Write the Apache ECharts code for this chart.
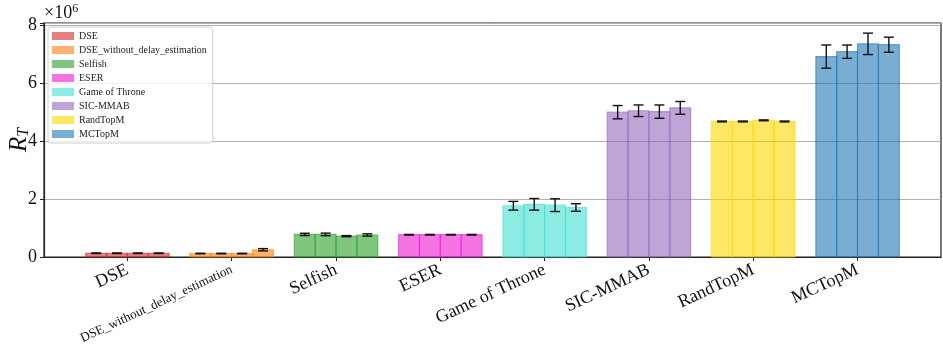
<!DOCTYPE html>
<html>
<head>
<meta charset="utf-8">
<script src="https://cdn.jsdelivr.net/npm/echarts@6/dist/echarts.min.js"></script>
<style>
  html, body { margin: 0; padding: 0; background: #fff; }
  #chart { width: 943px; height: 345px; }
</style>
</head>
<body>
<div id="chart"></div>
<script>
// methods (x categories + legend)
var categories = ['DSE', 'DSE_without_delay_estimation', 'Selfish', 'ESER',
  'Game of Throne', 'SIC-MMAB', 'RandTopM', 'MCTopM'];
var baseColors = ['214,39,40', '255,127,14', '44,160,44', '238,23,210',
  '64,224,208', '148,103,189', '255,215,0', '31,119,180'];

// R_T values (x 10^6), 4 runs per method
var dse      = [0.13, 0.13, 0.13, 0.13];
var dseNoDel = [0.12, 0.12, 0.12, 0.25];
var selfish  = [0.78, 0.78, 0.72, 0.76];
var eser     = [0.77, 0.77, 0.77, 0.77];
var got      = [1.77, 1.82, 1.79, 1.71];
var sic      = [5.00, 5.05, 5.02, 5.15];
var randTop  = [4.68, 4.68, 4.72, 4.68];
var mcTop    = [6.92, 7.09, 7.36, 7.33];

// error half-widths (x 10^6)
var dseErr      = [0.01, 0.01, 0.01, 0.01];
var dseNoDelErr = [0.01, 0.01, 0.01, 0.04];
var selfishErr  = [0.04, 0.045, 0.02, 0.04];
var eserErr     = [0.01, 0.01, 0.01, 0.01];
var gotErr      = [0.15, 0.20, 0.22, 0.13];
var sicErr      = [0.23, 0.20, 0.23, 0.22];
var randTopErr  = [0.015, 0.015, 0.015, 0.015];
var mcTopErr    = [0.40, 0.23, 0.37, 0.26];

var yTicks = [0, 2, 4, 6, 8];

var values = [dse, dseNoDel, selfish, eser, got, sic, randTop, mcTop];
var errors = [dseErr, dseNoDelErr, selfishErr, eserErr, gotErr, sicErr, randTopErr, mcTopErr];

var BAR_W = 0.2;
var FONT = '"Liberation Serif", "DejaVu Serif", serif';

function renderBar(params, api) {
  var x = api.value(0), v = api.value(1), e = api.value(2);
  var tl = api.coord([x - BAR_W / 2, v]);
  var br = api.coord([x + BAR_W / 2, 0]);
  var hi = api.coord([x, v + e]);
  var lo = api.coord([x, v - e]);
  var col = api.visual('color');
  var cap = 5;
  return {
    type: 'group',
    children: [
      { type: 'rect', shape: { x: tl[0], y: tl[1], width: br[0] - tl[0], height: br[1] - tl[1] },
        style: { fill: col, stroke: col, lineWidth: 1.2 } },
      { type: 'line', shape: { x1: hi[0], y1: hi[1], x2: lo[0], y2: lo[1] },
        style: { stroke: '#111', lineWidth: 1.4 } },
      { type: 'line', shape: { x1: hi[0] - cap, y1: hi[1], x2: hi[0] + cap, y2: hi[1] },
        style: { stroke: '#111', lineWidth: 1.4 } },
      { type: 'line', shape: { x1: lo[0] - cap, y1: lo[1], x2: lo[0] + cap, y2: lo[1] },
        style: { stroke: '#111', lineWidth: 1.4 } }
    ]
  };
}

var series = categories.map(function (name, i) {
  return {
    name: name,
    type: 'custom',
    renderItem: renderBar,
    itemStyle: { color: 'rgba(' + baseColors[i] + ',0.6)' },
    encode: { x: 0, y: 1 },
    data: values[i].map(function (v, j) {
      return [i + (j - 1.5) * BAR_W, v, errors[i][j]];
    })
  };
});

var chart = echarts.init(document.getElementById('chart'));
chart.setOption({
  animation: false,
  grid: {
    left: 44, right: 2, top: 23, bottom: 88,
    show: true, borderColor: '#222', borderWidth: 1.2,
    outerBoundsMode: 'none'
  },
  legend: {
    orient: 'vertical',
    left: 48, top: 27,
    itemWidth: 22, itemHeight: 8, itemGap: 4,
    icon: 'rect',
    padding: [4, 6, 4, 4],
    borderColor: '#d0d0d0', borderWidth: 1, borderRadius: 3,
    backgroundColor: 'rgba(255,255,255,0.8)',
    textStyle: { fontFamily: FONT, fontSize: 10, lineHeight: 10, color: '#222' },
    data: categories
  },
  xAxis: {
    type: 'value',
    min: -0.8, max: 7.8,
    splitLine: { show: false },
    axisLine: { show: true, onZero: false, lineStyle: { color: '#222', width: 1.2 } },
    axisTick: { show: true, customValues: [0, 1, 2, 3, 4, 5, 6, 7], length: 4, lineStyle: { color: '#222' } },
    axisLabel: {
      customValues: [0, 1, 2, 3, 4, 5, 6, 7],
      rotate: 25,
      margin: 12,
      fontFamily: FONT,
      fontSize: 18,
      color: '#111',
      formatter: function (v) {
        var n = categories[Math.round(v)];
        return n.length > 20 ? '{s|' + n + '}' : n;
      },
      rich: { s: { fontFamily: FONT, fontSize: 13, color: '#111' } }
    }
  },
  yAxis: {
    type: 'value',
    min: 0, max: 8.08, interval: 2,
    axisLine: { show: true, onZero: false, lineStyle: { color: '#222', width: 1.2 } },
    axisTick: { show: true, length: 4, lineStyle: { color: '#222' } },
    splitLine: { show: true, lineStyle: { color: '#b0b0b0', width: 1 } },
    axisLabel: {
      fontFamily: FONT, fontSize: 18, color: '#111', margin: 7,
      formatter: function (v) { return yTicks.indexOf(v) >= 0 ? String(v) : ''; }
    }
  },
  graphic: [
    {
      type: 'text', left: 44, top: 3,
      style: {
        text: '×10{sup|6}',
        font: '18px ' + FONT,
        fill: '#111',
        rich: { sup: { fontFamily: FONT, fontSize: 12, verticalAlign: 'top', padding: [0, 0, 8, 0] } }
      }
    },
    {
      type: 'text', x: 19, y: 140, rotation: Math.PI / 2,
      style: {
        text: '{r|R}{t|T}',
        align: 'center', verticalAlign: 'middle',
        rich: {
          r: { fontFamily: FONT, fontStyle: 'italic', fontSize: 25, fill: '#111' },
          t: { fontFamily: FONT, fontStyle: 'italic', fontSize: 16, fill: '#111', padding: [10, 0, 0, 0] }
        }
      }
    }
  ],
  series: series
});
</script>
</body>
</html>
